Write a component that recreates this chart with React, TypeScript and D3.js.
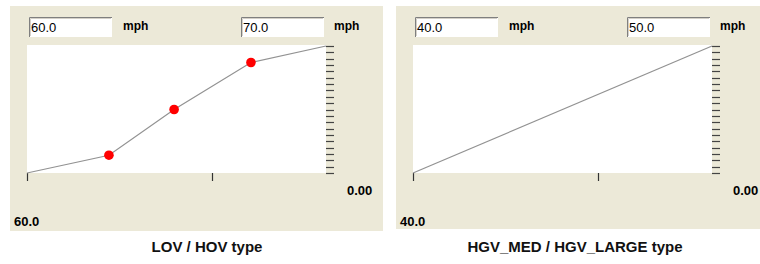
import React from 'react';
import * as d3 from 'd3';

// speed curve: x in % of speed span, y in fraction of max
const lovX = [0, 27.4, 49.2, 74.9, 100];
const lovY = [0, 0.14, 0.5, 0.87, 1.0];
const lovMarkers = [1, 2, 3];

const hgvX = [0, 100];
const hgvY = [0, 1.0];
const hgvMarkers: number[] = [];

const lovBounds = ['60.0', '70.0'];
const hgvBounds = ['40.0', '50.0'];
const xTickValues = [0, 62];
const yTickCount = 21;
const yLabel = '0.00';
const unit = 'mph';

const titles = ['LOV / HOV type', 'HGV_MED / HGV_LARGE type'];

const W = 760;
const H = 264;
const BEIGE = '#ece9d8';
const FONT = '"Liberation Sans", Arial, sans-serif';

type PanelProps = {
  dx: number;
  bgWidth: number;
  bgHeight: number;
  xs: number[];
  ys: number[];
  markers: number[];
  bounds: string[];
  title: string;
  titleX: number;
};

function Panel({ dx, bgWidth, bgHeight, xs, ys, markers, bounds, title, titleX }: PanelProps) {
  const plot = { left: 27, right: 326, top: 46, bottom: 173 };
  const x = d3.scaleLinear().domain([0, 100]).range([plot.left, plot.right]);
  const y = d3.scaleLinear().domain([0, 1]).range([plot.bottom, plot.top]);
  const pts = xs.map((v, i) => [v, ys[i]] as [number, number]);
  const line = d3.line<[number, number]>().x(d => x(d[0])).y(d => y(d[1]));
  const yTicks = d3.range(yTickCount).map(i => i / (yTickCount - 1));

  const box = (bx: number, label: string) => (
    <g>
      <rect x={bx} y={17} width={83} height={20} fill="#fff" />
      <path d={`M${bx + 0.5},${37} V${17.5} H${bx + 83}`} stroke="#7f7f7f" fill="none" />
      <path d={`M${bx + 1.5},${36} V${18.5} H${bx + 82}`} stroke="#d4d0c8" fill="none" />
      <text x={bx + 2} y={32} fontSize={13} fontFamily={FONT} fill="#000">{label}</text>
    </g>
  );

  return (
    <g transform={`translate(${dx},0)`}>
      <rect x={10} y={6} width={bgWidth} height={bgHeight} fill={BEIGE} />
      {box(29, bounds[0])}
      <text x={123} y={30} fontSize={12} fontWeight="bold" fontFamily={FONT}>{unit}</text>
      {box(241, bounds[1])}
      <text x={334} y={30} fontSize={12} fontWeight="bold" fontFamily={FONT}>{unit}</text>
      <rect x={plot.left} y={plot.top - 1} width={plot.right - plot.left} height={plot.bottom - plot.top + 1} fill="#fff" />
      {yTicks.map((t, i) => (
        <line key={i} x1={plot.right} x2={plot.right + 8}
          y1={Math.round(y(t)) + 0.5} y2={Math.round(y(t)) + 0.5} stroke="#444" strokeWidth={1.2} />
      ))}
      {xTickValues.map((t, i) => (
        <line key={i} x1={Math.round(x(t)) + 0.5} x2={Math.round(x(t)) + 0.5}
          y1={plot.bottom} y2={plot.bottom + 8} stroke="#333" strokeWidth={1.2} />
      ))}
      <path d={line(pts) ?? ''} fill="none" stroke="#929292" strokeWidth={1.2} />
      {markers.map(i => (
        <circle key={i} cx={x(xs[i])} cy={y(ys[i])} r={4.8} fill="#ff0000" />
      ))}
      <text x={plot.right + 21} y={195} fontSize={13} fontWeight="bold" fontFamily={FONT}>{yLabel}</text>
      <text x={14} y={226} fontSize={13} fontWeight="bold" fontFamily={FONT}>{bounds[0]}</text>
      <text x={titleX} y={252} textAnchor="middle" fontSize={15} fontWeight="bold"
        fontFamily={FONT} fill="#111">{title}</text>
    </g>
  );
}

export default function App() {
  return (
    <svg width={W} height={H} style={{ position: 'absolute', left: 0, top: 0, background: '#fff' }}>
      <Panel dx={0} bgWidth={373} bgHeight={225} xs={lovX} ys={lovY} markers={lovMarkers}
        bounds={lovBounds} title={titles[0]} titleX={207} />
      <Panel dx={386} bgWidth={374} bgHeight={223} xs={hgvX} ys={hgvY} markers={hgvMarkers}
        bounds={hgvBounds} title={titles[1]} titleX={189} />
    </svg>
  );
}
